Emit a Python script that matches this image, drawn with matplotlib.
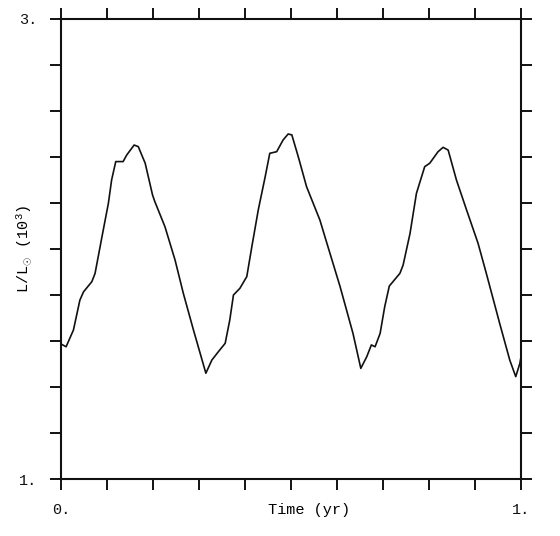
import matplotlib
matplotlib.use("Agg")
import matplotlib.pyplot as plt
import numpy as np

plt.rcParams['font.family'] = ['Liberation Mono', 'DejaVu Sans']
plt.rcParams['mathtext.fontset'] = 'custom'
plt.rcParams['mathtext.rm'] = 'Liberation Mono'
plt.rcParams['mathtext.default'] = 'rm'

# light curve (time in yr, L/Lsun in 10^3)
time_yr = [0.0, 0.011, 0.027, 0.041, 0.049, 0.067, 0.074, 0.089, 0.103, 0.110,
           0.119, 0.135, 0.143, 0.159, 0.168, 0.183, 0.199, 0.204, 0.226, 0.248,
           0.266, 0.288, 0.315, 0.328, 0.342, 0.357, 0.367, 0.375, 0.389, 0.404,
           0.415, 0.429, 0.444, 0.454, 0.469, 0.483, 0.494, 0.502, 0.516, 0.534,
           0.563, 0.574, 0.607, 0.635, 0.652, 0.665, 0.675, 0.683, 0.694, 0.704,
           0.714, 0.737, 0.744, 0.759, 0.773, 0.791, 0.802, 0.820, 0.831, 0.842,
           0.860, 0.882, 0.907, 0.925, 0.954, 0.976, 0.989, 0.998, 1.0]
lum = [1.587, 1.575, 1.648, 1.778, 1.814, 1.858, 1.894, 2.053, 2.199, 2.300,
       2.380, 2.380, 2.409, 2.452, 2.445, 2.373, 2.235, 2.206, 2.097, 1.952,
       1.807, 1.648, 1.460, 1.517, 1.553, 1.590, 1.691, 1.800, 1.829, 1.880,
       2.010, 2.170, 2.314, 2.416, 2.423, 2.474, 2.500, 2.496, 2.401, 2.271,
       2.126, 2.053, 1.836, 1.633, 1.481, 1.532, 1.583, 1.575, 1.633, 1.749,
       1.839, 1.894, 1.930, 2.067, 2.242, 2.358, 2.373, 2.423, 2.442, 2.430,
       2.300, 2.170, 2.025, 1.894, 1.677, 1.517, 1.445, 1.503, 1.526]

x_ticks = np.arange(0, 11) / 10
y_ticks = 1 + np.arange(0, 11) / 5
x_ticklabels = ['0.'] + [''] * 9 + ['1.']
y_ticklabels = ['1.'] + [''] * 9 + ['3.']

fig = plt.figure(figsize=(5.6, 5.36), dpi=100)
ax = fig.add_axes([0.109, 0.1063, 0.821, 0.8583])

ax.plot(time_yr, lum, color='#111111', linewidth=1.2)

ax.set_xlim(0, 1)
ax.set_ylim(1, 3)
ax.set_xticks(x_ticks)
ax.set_xticklabels(x_ticklabels)
ax.set_yticks(y_ticks)
ax.set_yticklabels(y_ticklabels)
ax.tick_params(direction='out', length=8, width=1.4, labelsize=11, pad=9,
               top=True, right=True, colors='#111111')
for s in ax.spines.values():
    s.set_linewidth(1.5)
    s.set_color('#111111')

ax.set_xlabel('Time (yr)', fontsize=11)
ax.xaxis.set_label_coords(0.539, -0.053)
ax.set_ylabel(r'L/L$_{\odot}$ (10$^{3}$)', fontsize=11)
ax.yaxis.set_label_coords(-0.06, 0.5)

fig.savefig('out.png', dpi=100, facecolor='white')
